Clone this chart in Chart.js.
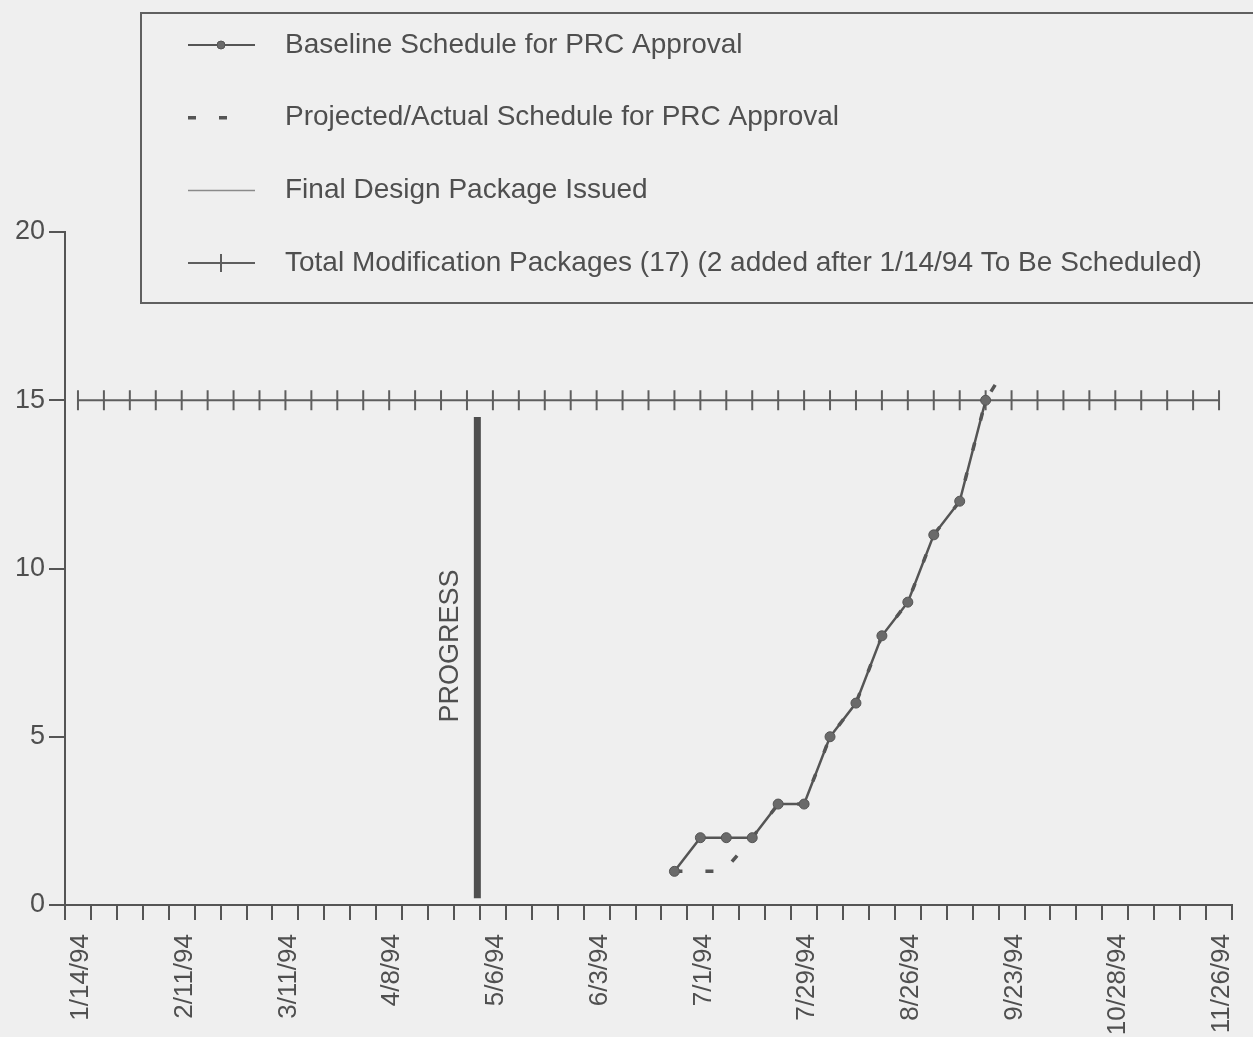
<!DOCTYPE html>
<html>
<head>
<meta charset="utf-8">
<title>Modification Packages - PRC Approval Schedule</title>
<script src="https://cdn.jsdelivr.net/npm/chart.js@4.4.0/dist/chart.umd.min.js"></script>
<style>
  html, body { margin: 0; padding: 0; background: #efefef; }
  #wrap { width: 1253px; height: 1037px; }
</style>
</head>
<body>
<div id="wrap"><canvas id="prcChart" width="1253" height="1037"></canvas></div>
<script>
// ====================================================================
// Data (x = weeks counted from the y axis, 1/14/94 = week 1)
// ====================================================================
const weekLabels = ["1/14/94", "2/11/94", "3/11/94", "4/8/94", "5/6/94", "6/3/94",
  "7/1/94", "7/29/94", "8/26/94", "9/23/94", "10/28/94", "11/26/94"];

const baselineWeeks  = [23.5, 24.5, 25.5, 26.5, 27.5, 28.5, 29.5, 30.5, 31.5, 32.5, 33.5, 34.5, 35.5];
const baselineValues = [1, 2, 2, 2, 3, 3, 5, 6, 8, 9, 11, 12, 15];

const projectedWeeks  = [23.5, 25.4, 26.5, 27.5, 28.5, 29.5, 30.5, 31.5, 32.5, 33.5, 34.5, 35.5, 36.3];
const projectedValues = [1, 1, 2, 3, 3, 5, 6, 8, 9, 11, 12, 15, 16];

const finalIssuedWeeks  = [];
const finalIssuedValues = [];

const totalWeeks = [0.5, 1.5, 2.5, 3.5, 4.5, 5.5, 6.5, 7.5, 8.5, 9.5, 10.5, 11.5, 12.5, 13.5, 14.5,
  15.5, 16.5, 17.5, 18.5, 19.5, 20.5, 21.5, 22.5, 23.5, 24.5, 25.5, 26.5, 27.5, 28.5, 29.5,
  30.5, 31.5, 32.5, 33.5, 34.5, 35.5, 36.5, 37.5, 38.5, 39.5, 40.5, 41.5, 42.5, 43.5, 44.5];
const totalValues = [15, 15, 15, 15, 15, 15, 15, 15, 15, 15, 15, 15, 15, 15, 15,
  15, 15, 15, 15, 15, 15, 15, 15, 15, 15, 15, 15, 15, 15, 15,
  15, 15, 15, 15, 15, 15, 15, 15, 15, 15, 15, 15, 15, 15, 15];

const progressWeeks  = [15.9, 15.9];
const progressValues = [0.2, 14.5];
const progressLabel = "PROGRESS";

const yTicks = [0, 5, 10, 15, 20];

// helper to zip x / y arrays into points
const pts = (xs, ys) => xs.map((x, i) => ({ x: x, y: ys[i] }));

const INK = "#555555";
const TEXT = "#4f4f4f";
const FONT = "'Liberation Sans', Arial, Helvetica, sans-serif";

// ====================================================================
// Plugins
// ====================================================================
const paperBg = {
  id: "paperBg",
  beforeDraw(chart) {
    const ctx = chart.ctx;
    ctx.save();
    ctx.fillStyle = "#efefef";
    ctx.fillRect(0, 0, chart.width, chart.height);
    ctx.restore();
  },
};

const progressText = {
  id: "progressText",
  afterDatasetsDraw(chart) {
    const ctx = chart.ctx;
    const x = chart.scales.x.getPixelForValue(progressWeeks[0]) - 27;
    const y = chart.scales.y.getPixelForValue(7.7);
    ctx.save();
    ctx.translate(x, y);
    ctx.rotate(-Math.PI / 2);
    ctx.fillStyle = TEXT;
    ctx.font = "27px " + FONT;
    ctx.textAlign = "center";
    ctx.textBaseline = "middle";
    ctx.fillText(progressLabel, 0, 0);
    ctx.restore();
  },
};

// legend drawn as a boxed panel overlapping the top of the plot
const boxLegend = {
  id: "boxLegend",
  afterDraw(chart) {
    const ctx = chart.ctx;
    ctx.save();
    ctx.strokeStyle = "#606060";
    ctx.lineWidth = 2;
    ctx.strokeRect(141, 13, 1130, 290);

    let row = 0;
    chart.data.datasets.forEach((ds) => {
      if (ds.inLegend === false) return;
      const y = 45 + row * 72.7;
      const x0 = 188, x1 = ds.legendLineEnd || 255, xm = 221;
      ctx.save();
      ctx.strokeStyle = ds.borderColor;
      ctx.lineWidth = ds.legendLineWidth || ds.borderWidth;
      ctx.setLineDash(ds.borderDash || []);
      ctx.beginPath();
      ctx.moveTo(x0, y);
      ctx.lineTo(x1, y);
      ctx.stroke();
      ctx.restore();
      if (ds.pointRadius > 0) {
        ctx.save();
        ctx.fillStyle = ds.pointBackgroundColor || ds.borderColor;
        ctx.strokeStyle = ds.pointBorderColor || ds.borderColor;
        ctx.lineWidth = ds.pointBorderWidth || 1;
        Chart.helpers.drawPoint(ctx, {
          pointStyle: ds.pointStyle,
          rotation: ds.pointRotation || 0,
          radius: ds.legendPointRadius || ds.pointRadius,
          borderWidth: ds.pointBorderWidth || 1,
        }, xm, y);
        ctx.restore();
      }
      ctx.fillStyle = TEXT;
      ctx.font = "28px " + FONT;
      ctx.textAlign = "left";
      ctx.textBaseline = "middle";
      ctx.fillText(ds.label, 285, y);
      row++;
    });
    ctx.restore();
  },
};

// ====================================================================
// Chart
// ====================================================================
const ctx = document.getElementById("prcChart").getContext("2d");

const prcChart = new Chart(ctx, {
  type: "line",
  data: {
    datasets: [
      {
        label: "Baseline Schedule for PRC Approval",
        data: pts(baselineWeeks, baselineValues),
        borderColor: INK,
        borderWidth: 2.5,
        pointStyle: "circle",
        pointRadius: 5,
        pointBackgroundColor: "#6a6a6a",
        pointBorderColor: INK,
        pointBorderWidth: 1,
        legendLineWidth: 2,
        legendPointRadius: 4,
        tension: 0,
      },
      {
        label: "Projected/Actual Schedule for PRC Approval",
        data: pts(projectedWeeks, projectedValues),
        borderColor: INK,
        borderWidth: 3.5,
        borderDash: [8, 23],
        pointRadius: 0,
        legendLineEnd: 233,
        tension: 0,
      },
      {
        label: "Final Design Package Issued",
        data: pts(finalIssuedWeeks, finalIssuedValues),
        borderColor: "#8a8a8a",
        borderWidth: 1.5,
        pointRadius: 0,
      },
      {
        label: "Total Modification Packages (17) (2 added after 1/14/94 To Be Scheduled)",
        data: pts(totalWeeks, totalValues),
        borderColor: "#5e5e5e",
        borderWidth: 2,
        pointStyle: "line",
        pointRotation: 90,
        pointRadius: 10,
        pointBorderColor: "#5e5e5e",
        pointBorderWidth: 2,
        legendPointRadius: 9,
        tension: 0,
      },
      {
        label: progressLabel,
        data: pts(progressWeeks, progressValues),
        borderColor: "#4e4e4e",
        borderWidth: 7,
        borderCapStyle: "butt",
        pointRadius: 0,
        inLegend: false,
      },
    ],
  },
  options: {
    responsive: false,
    animation: false,
    devicePixelRatio: 1,
    layout: { padding: { top: 232, right: 0, left: 0, bottom: 0 } },
    plugins: {
      legend: { display: false },
      tooltip: { enabled: false },
    },
    elements: { line: { fill: false } },
    scales: {
      x: {
        type: "linear",
        min: 0,
        max: 45,
        afterFit: (s) => {
          s.height = 132;
          s.paddingRight = 21; // keep the axis running to the right edge like the original
          s.paddingLeft = 0;
        },
        border: { display: true, color: INK, width: 2 },
        grid: { drawOnChartArea: false, drawTicks: true, tickLength: 15, color: INK, lineWidth: 2 },
        ticks: {
          stepSize: 1,
          autoSkip: false,
          minRotation: 90,
          maxRotation: 90,
          padding: 14,
          labelOffset: -10,
          color: TEXT,
          font: { family: FONT, size: 26 },
          callback: (v) => (v % 4 === 1 ? weekLabels[(v - 1) / 4] : ""),
        },
      },
      y: {
        min: yTicks[0],
        max: yTicks[yTicks.length - 1],
        afterFit: (s) => { s.width = 65; },
        border: { display: true, color: INK, width: 2 },
        grid: { drawOnChartArea: false, drawTicks: true, tickLength: 16, color: INK, lineWidth: 2 },
        ticks: {
          stepSize: 5,
          padding: 4,
          color: TEXT,
          font: { family: FONT, size: 27 },
        },
      },
    },
  },
  plugins: [paperBg, progressText, boxLegend],
});
</script>
</body>
</html>
